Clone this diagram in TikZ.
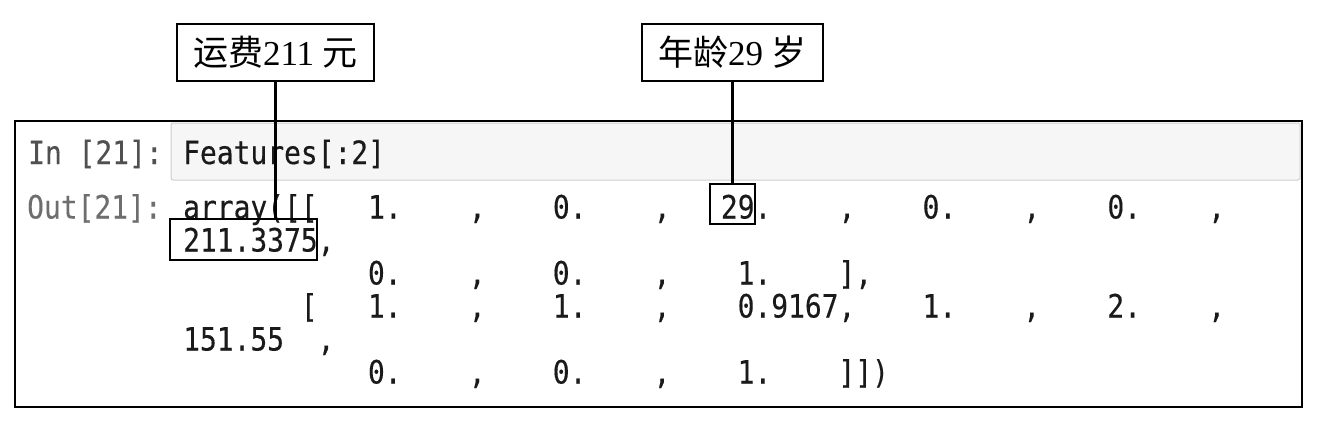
\documentclass[tikz,border=0pt]{standalone}
\usepackage{fontspec}
\setmainfont{Liberation Serif}
\newfontfamily\cjk{Noto Sans CJK SC}
\newfontfamily\codefont[WordSpace={1,0,0},FakeStretch=0.87,FakeBold=0.3]{DejaVu Sans Mono}
\newdimen\cw \cw=16.8pt
\newcommand\gap[1]{\hspace*{#1\cw}}
\definecolor{inbg}{HTML}{F6F6F6}
\definecolor{inborder}{HTML}{CFCFCF}
\definecolor{inprompt}{HTML}{505050}
\definecolor{outprompt}{HTML}{6E6E6E}
\definecolor{codeink}{HTML}{1A1A1A}
\begin{document}
\begin{tikzpicture}[x=1pt,y=-1pt,
  code/.style={font=\codefont\fontsize{32.1pt}{33pt}\selectfont, anchor=base west, inner sep=0pt, text=codeink},
  callout/.style={draw, line width=2.6pt, minimum height=57pt, inner sep=0pt, font=\fontsize{35pt}{38pt}\selectfont},
  hl/.style={draw, line width=2.6pt, inner sep=0pt},
  link/.style={line width=2.6pt}]
\useasboundingbox (0,0) rectangle (1324,420);
% outer cell frame
\draw[line width=1.5pt] (15,121) rectangle (1302,407);
% input area
\draw[inborder, fill=inbg, line width=1pt, rounded corners=2pt] (171,123) rectangle (1300,180);
% prompts
\node[code, text=inprompt] (inp) at (28,164) {In [21]:};
\node[code, text=outprompt] (outp) at (27,218.5) {Out[21]:};
% input code
\node[code] (incode) at (183,164) {Features[:2]};
% output lines
\node[code] (l1) at (183,218.5) {array([[\gap{3}1.\gap{4},\gap{4}0.\gap{4},\gap{3}29.\gap{4},\gap{4}0.\gap{4},\gap{4}0.\gap{4},};
\node[code] (l2) at (183,251.5) {211.3375,};
\node[code] (l3) at (183,284.5) {\gap{11}0.\gap{4},\gap{4}0.\gap{4},\gap{4}1.\gap{4}],};
\node[code] (l4) at (183,317.5) {\gap{7}[\gap{3}1.\gap{4},\gap{4}1.\gap{4},\gap{4}0.9167,\gap{4}1.\gap{4},\gap{4}2.\gap{4},};
\node[code] (l5) at (183,350.5) {151.55\gap{2},};
\node[code] (l6) at (183,383.5) {\gap{11}0.\gap{4},\gap{4}0.\gap{4},\gap{4}1.\gap{4}]])};
% highlight boxes
\node[hl, minimum width=147pt, minimum height=41pt] (b211) at (243.5,239.5) {};
\node[hl, minimum width=45pt, minimum height=40pt] (b29) at (732.5,204) {};
% callouts
\node[callout, minimum width=197pt] (c1) at (275.5,52.5) {{\cjk 运费}211 {\cjk 元}};
\node[callout, minimum width=181pt] (c2) at (732.5,52.5) {{\cjk 年龄}29 {\cjk 岁}};
% connectors
\draw[link] (c1.south) -- (c1.south |- b211.north);
\draw[link] (c2.south) -- (b29.north);
\end{tikzpicture}
\end{document}
